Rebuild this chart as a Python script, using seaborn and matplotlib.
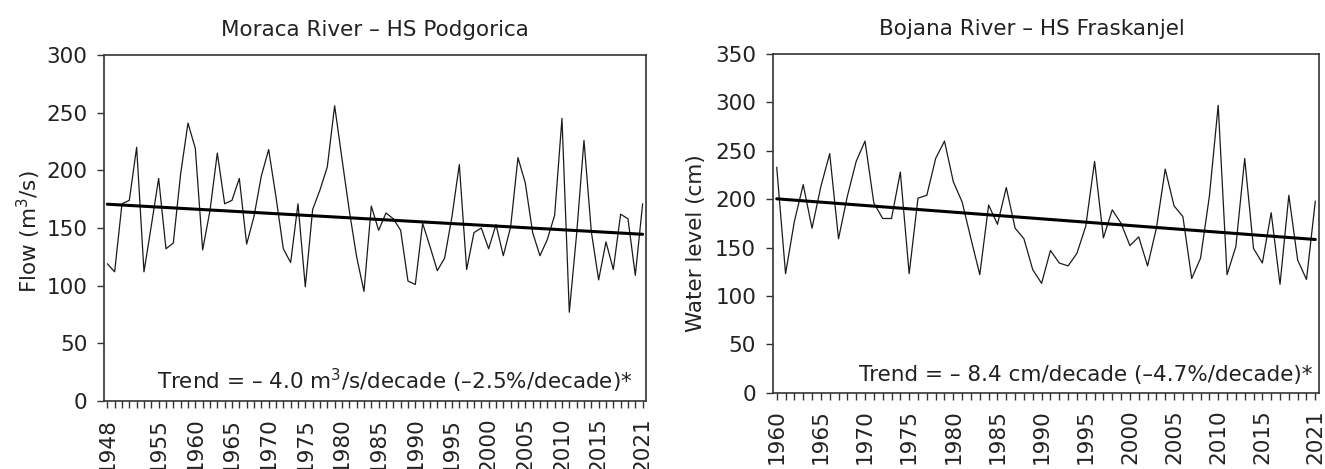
import matplotlib
matplotlib.use("Agg")
import matplotlib.pyplot as plt
import matplotlib.ticker as mticker
import numpy as np
import pandas as pd
import seaborn as sns

# Moraca River - HS Podgorica, mean annual flow (m3/s), 1948-2021
moraca_years = np.arange(1948, 2022)
moraca_flow = [
    119, 112,
    171, 174, 220, 112, 152, 193, 132, 137, 197, 241,
    219, 131, 165, 215, 171, 174, 193, 136, 160, 195,
    218, 177, 132, 120, 171, 99, 166, 183, 203, 256,
    210, 165, 125, 95, 169, 148, 163, 158, 148, 104,
    101, 154, 134, 113, 124, 160, 205, 114, 146, 150,
    132, 153, 126, 151, 211, 189, 146, 126, 140, 161,
    245, 77, 145, 226, 147, 105, 138, 114, 162, 158,
    109, 171,
]
moraca_ticks = [1948, 1955, 1960, 1965, 1970, 1975, 1980, 1985,
                1990, 1995, 2000, 2005, 2010, 2015, 2021]

# Bojana River - HS Fraskanjel, mean annual water level (cm), 1960-2021
bojana_years = np.arange(1960, 2022)
bojana_level = [
    233, 123, 177, 215, 170, 213, 247, 159, 203, 239,
    260, 196, 180, 180, 228, 123, 201, 204, 242, 260,
    218, 197, 159, 122, 194, 174, 212, 170, 159, 127,
    113, 147, 134, 131, 144, 172, 239, 160, 189, 175,
    152, 161, 131, 170, 231, 193, 182, 118, 139, 203,
    297, 122, 151, 242, 149, 134, 186, 112, 204, 137,
    117, 198,
]
bojana_ticks = [1960, 1965, 1970, 1975, 1980, 1985, 1990, 1995,
                2000, 2005, 2010, 2015, 2021]

sns.set_style("ticks")
plt.rcParams["font.family"] = ["DejaVu Sans"]
plt.rcParams["mathtext.fontset"] = "dejavusans"

FS = 15.5
TXT = "#222222"

fig = plt.figure(figsize=(13.25, 4.69), dpi=100)
ax1 = fig.add_axes([0.0785, 0.145, 0.409, 0.7377])
ax2 = fig.add_axes([0.5832, 0.1627, 0.4125, 0.7222])


def draw_panel(ax, years, values, ticks, ylim, yticks, title, title_x, ylabel,
               label_xy, trend_text, trend_xy):
    df = pd.DataFrame({"year": years, "value": values})
    sns.lineplot(data=df, x="year", y="value", ax=ax, color="#1a1a1a", lw=0.9)
    sns.regplot(data=df, x="year", y="value", ax=ax, scatter=False, ci=None,
                line_kws={"color": "black", "lw": 2.2})
    ax.set_xlim(years[0] - 0.45, years[-1] + 0.45)
    ax.set_ylim(*ylim)
    ax.set_yticks(yticks)
    ax.xaxis.set_major_locator(mticker.FixedLocator(ticks))
    ax.xaxis.set_minor_locator(mticker.MultipleLocator(1))
    ax.set_xticklabels([str(t) for t in ticks], rotation=90)
    ax.tick_params(axis="both", which="both", direction="out", length=5,
                   width=1, colors="#333333", labelcolor=TXT, labelsize=FS, pad=7)
    ax.set_xlabel("")
    ax.set_ylabel(ylabel, fontsize=FS, color=TXT)
    ax.yaxis.set_label_coords(*label_xy)
    ax.set_title(title, fontsize=FS, color=TXT, pad=14, x=title_x)
    ax.text(trend_xy[0], trend_xy[1], trend_text, transform=ax.transAxes,
            ha="right", va="baseline", fontsize=FS, color=TXT)
    for sp in ax.spines.values():
        sp.set_visible(True)
        sp.set_color("#333333")
        sp.set_linewidth(1.2)


draw_panel(ax1, moraca_years, moraca_flow, moraca_ticks, (0, 300),
           np.arange(0, 301, 50), "Moraca River \u2013 HS Podgorica", 0.5,
           "Flow (m$^3$/s)", (-0.113, 0.49),
           "Trend = \u2013 4.0 m$^3$/s/decade (\u20132.5%/decade)*", (0.976, 0.035))

draw_panel(ax2, bojana_years, bojana_level, bojana_ticks, (0, 350),
           np.arange(0, 351, 50), "Bojana River \u2013 HS Fraskanjel", 0.474,
           "Water level (cm)", (-0.122, 0.443),
           "Trend = \u2013 8.4 cm/decade (\u20134.7%/decade)*", (0.987, 0.034))

fig.savefig("out.png", dpi=100)
